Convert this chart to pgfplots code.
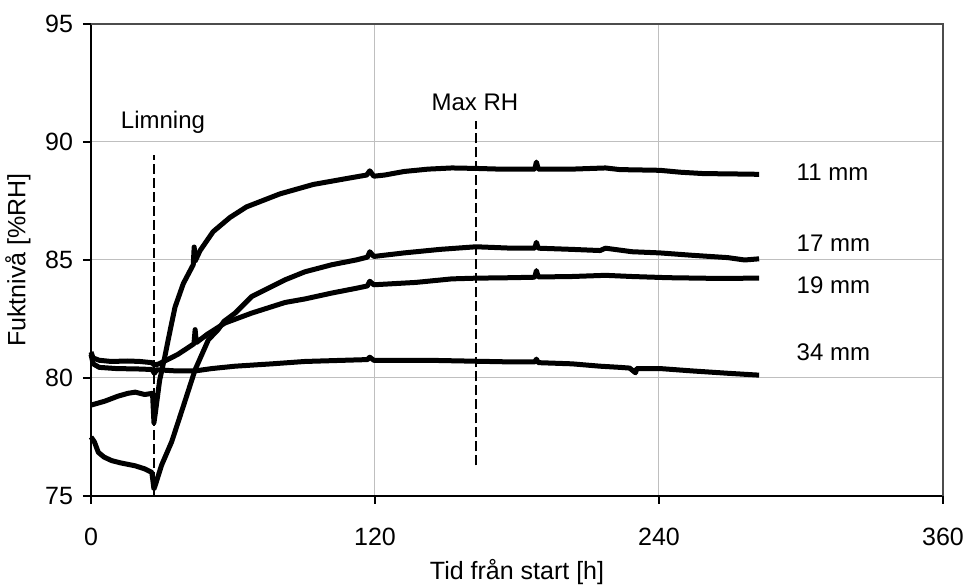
\documentclass[border=0pt]{standalone}
\usepackage{fontspec}
\setmainfont{Liberation Sans}
\usepackage{pgfplots}
\pgfplotsset{compat=1.18}
\begin{document}
\begin{tikzpicture}[font=\fontsize{12}{14}\selectfont]
\useasboundingbox (-45.5pt,-45.5pt) rectangle (437.5pt,248pt);
\begin{axis}[at={(0pt,0pt)}, anchor=south west, scale only axis, width=426pt, height=236pt,
  xmin=0, xmax=360, ymin=75, ymax=95,
  xtick={0,120,240,360}, ytick={75,80,85,90,95},
  grid=major, major grid style={black!25, line width=0.5pt},
  axis x line*=bottom, axis y line*=left,
  axis line style={-, line width=0.8pt},
  tick align=outside, major tick length=4pt, tick style={black, line width=0.7pt},
  /pgf/number format/assume math mode=true,
  tick label style={font=\fontsize{12.5}{14}\selectfont},
  xticklabel style={yshift=-8.5pt},
  yticklabel style={xshift=-1.5pt},
  xlabel={Tid från start [h]}, ylabel={Fuktnivå [\%RH]},
  label style={font=\fontsize{12.5}{14}\selectfont},
  xlabel style={at={(axis description cs:0.5,-0.176)}, anchor=base},
  ylabel style={at={(axis description cs:-0.0857,0.5)}, anchor=center},
  clip=false]
\draw[black!70, line width=0.8pt] (rel axis cs:0,1) -- (rel axis cs:1,1) -- (rel axis cs:1,0);
% dashed markers
\addplot[black, line width=1.3pt, dash pattern=on 5pt off 2pt] coordinates {(26.6,75) (26.6,89.45)};
\addplot[black, line width=1.3pt, dash pattern=on 5pt off 2pt] coordinates {(162.6,76.3) (162.6,90.9)};
% 11 mm
\addplot[black, line width=2.5pt, line join=round] coordinates {
(0,78.85) (3.5,78.95) (5.9,79.02) (11.4,79.23) (15.6,79.35) (18.7,79.4) (22.7,79.3) (26.0,79.35) (26.6,78.1) (27.3,78.6) (29.0,79.9) (31.2,80.9) (33.4,82.0) (35.5,83.0) (39.0,84.0) (43.2,84.8) (43.6,85.55) (44.0,84.95) (46.1,85.4) (51.6,86.2) (58.7,86.8) (65.7,87.25) (79.8,87.8) (93.9,88.2) (107.9,88.45) (116.5,88.6) (117.8,88.78) (119.5,88.55) (124.1,88.6) (132.3,88.75) (142.4,88.85) (152.5,88.9) (162.7,88.88) (172.8,88.85) (187.5,88.85) (188.2,89.15) (189,88.85) (203.2,88.85) (217.4,88.9) (223.5,88.83) (240.4,88.8) (248.9,88.72) (259.0,88.66) (269.1,88.65) (282.3,88.63)};
% 17 mm
\addplot[black, line width=2.5pt, line join=round] coordinates {
(0,77.5) (1.4,77.3) (3.1,76.85) (5.5,76.65) (8.7,76.5) (12.6,76.4) (18.6,76.28) (22.7,76.15) (25.7,76.0) (26.6,75.3) (27.3,75.5) (29.8,76.3) (34.1,77.3) (39.0,78.8) (44.0,80.35) (49.6,81.62) (53.7,82.05) (56.2,82.4) (60.9,82.75) (67.9,83.45) (82.0,84.16) (90.4,84.5) (101.8,84.8) (112,85.0) (116.8,85.12) (117.8,85.35) (119.5,85.15) (132.3,85.3) (147.5,85.45) (162.7,85.56) (177.9,85.5) (187.5,85.5) (188.2,85.75) (189,85.5) (203.2,85.45) (215.1,85.4) (217.4,85.5) (228.6,85.35) (240.4,85.3) (253.9,85.2) (269.1,85.1) (276.2,85.0) (282.3,85.05)};
% 19 mm
\addplot[black, line width=2.5pt, line join=round] coordinates {
(0,81.1) (0.9,80.85) (3.5,80.75) (8.5,80.7) (15.6,80.72) (20.7,80.7) (25.7,80.65) (26.8,80.55) (28.8,80.6) (36.7,81.0) (43.5,81.45) (44.0,82.05) (44.5,81.5) (49.1,81.85) (56.6,82.33) (67.9,82.75) (82.0,83.2) (90.4,83.35) (101.8,83.6) (112,83.8) (116.8,83.9) (117.8,84.1) (119.5,83.95) (137.3,84.05) (152.5,84.2) (162.7,84.23) (177.9,84.25) (187.5,84.27) (188.2,84.55) (189,84.28) (203.2,84.3) (217.4,84.35) (228.6,84.3) (243.8,84.25) (264.1,84.22) (282.3,84.23)};
% 34 mm
\addplot[black, line width=2.5pt, line join=round] coordinates {
(0,81.0) (0.9,80.6) (3.5,80.45) (10.6,80.4) (20.7,80.38) (25.7,80.36) (26.8,80.2) (27.8,80.35) (35.9,80.3) (44.0,80.3) (51.1,80.4) (60.9,80.5) (76.5,80.6) (90.4,80.7) (106.9,80.75) (116.8,80.78) (117.8,80.88) (119.5,80.75) (142.4,80.75) (162.7,80.71) (177.9,80.68) (187.5,80.68) (188.2,80.8) (189,80.65) (203.2,80.6) (215.1,80.5) (223.5,80.45) (227.6,80.42) (230.1,80.22) (230.6,80.4) (240.4,80.4) (253.9,80.3) (269.1,80.2) (282.3,80.12)};
\node[anchor=west] at (axis cs:295.2,88.7) {11 mm};
\node[anchor=west] at (axis cs:295.2,85.7) {17 mm};
\node[anchor=west] at (axis cs:295.2,83.95) {19 mm};
\node[anchor=west] at (axis cs:295.2,81.1) {34 mm};
\node at (axis cs:30.4,90.82) {Limning};
\node at (axis cs:162.2,91.67) {Max RH};
\end{axis}
\end{tikzpicture}
\end{document}
